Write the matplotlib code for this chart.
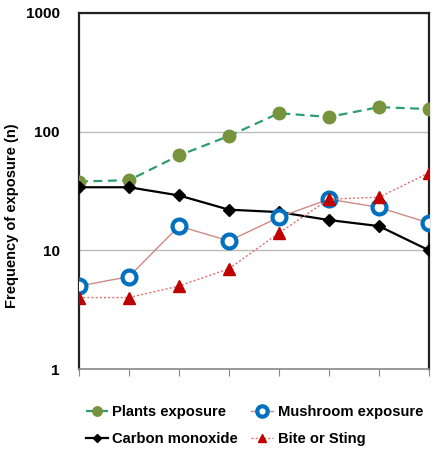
import matplotlib
matplotlib.use("Agg")
import matplotlib.pyplot as plt
from matplotlib.ticker import FixedLocator, NullLocator

# ---------------- DATA ----------------
x = [0, 1, 2, 3, 4, 5, 6, 7]
plants = [38, 39, 63, 92, 143, 133, 161, 155]
mushroom = [5, 6, 16, 12, 19, 27, 23, 17]
carbon = [34, 34, 29, 22, 21, 18, 16, 10]
bite = [4, 4, 5, 7, 14, 27, 28, 45]
y_ticks = [1, 10, 100, 1000]

plt.rcParams['font.family'] = ['Liberation Sans', 'DejaVu Sans']

fig = plt.figure(figsize=(4.4, 4.55), dpi=100)
ax = fig.add_axes([0.1795, 0.189, 0.7955, 0.7825])

l1, = ax.plot(x, plants, color="#2E9E6E", ls=(0, (4, 2.5)), lw=1.6, marker="o",
              ms=9, mfc="#77933C", mec="#77933C", label="Plants exposure", zorder=3)
l2, = ax.plot(x, mushroom, color="#D08A85", lw=1, marker="o", ms=10,
              mfc="white", mec="#0070C0", mew=3, label="Mushroom exposure", zorder=4)
l3, = ax.plot(x, carbon, color="black", lw=1.6, marker="D", ms=6,
              mfc="black", mec="black", label="Carbon monoxide", zorder=3)
l4, = ax.plot(x, bite, color="#E07070", ls=(0, (1.5, 1.5)), lw=1, marker="^",
              ms=8, mfc="#C00000", mec="#C00000", label="Bite or Sting", zorder=5)

ax.set_yscale("log")
ax.set_ylim(1, 1000)
ax.set_xlim(0, 7)
ax.yaxis.set_major_locator(FixedLocator(y_ticks))
ax.yaxis.set_minor_locator(NullLocator())
ax.set_yticklabels([str(v) for v in y_ticks], fontweight="bold", fontsize=11)
ax.set_xticks(x)
ax.set_xticklabels([])
ax.tick_params(axis="y", length=0, pad=14)
ax.tick_params(axis="x", length=5, color="#888888", direction="out")
ax.grid(axis="y", color="#BBBBBB", lw=1)
ax.set_axisbelow(True)

for s in ["left", "right", "top"]:
    ax.spines[s].set_color("#222222")
    ax.spines[s].set_linewidth(1.6)
ax.spines["bottom"].set_color("#888888")
ax.spines["bottom"].set_linewidth(1.2)

ax.set_ylabel("Frequency of exposure (n)", fontweight="bold", fontsize=10.5)
ax.yaxis.set_label_coords(-0.17, 0.43)

# legend filled column by column -> order so rows read like the original
fig.legend([l1, l3, l2, l4],
           ["Plants exposure", "Carbon monoxide", "Mushroom exposure", "Bite or Sting"],
           loc="lower left", bbox_to_anchor=(0.165, -0.01), ncol=2, frameon=False,
           prop={"weight": "bold", "size": 10.6}, handlelength=1.5,
           columnspacing=0.9, handletextpad=0.3, labelspacing=0.9, markerscale=0.75)

fig.savefig("out.png", dpi=100)
